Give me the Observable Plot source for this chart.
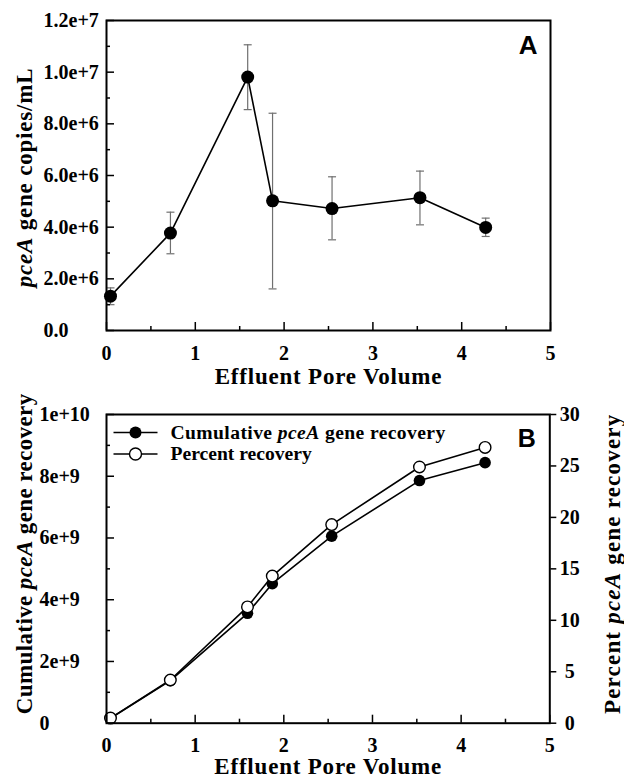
<!DOCTYPE html>
<html><head><meta charset="utf-8">
<script src="https://cdn.jsdelivr.net/npm/d3@7"></script>
<script src="https://cdn.jsdelivr.net/npm/@observablehq/plot@0.6"></script>
<style>
body{margin:0;background:#fff;}
#chart{width:624px;height:780px;overflow:hidden;}
#chart svg{display:block;}
</style></head><body><div id="chart"></div>
<script>
// ---- data ----
const poreVolume = [0.045, 0.72, 1.59, 1.87, 2.54, 3.53, 4.27];
const copiesPerML = [1.33e6, 3.77e6, 9.81e6, 5.02e6, 4.72e6, 5.14e6, 3.99e6];
const copiesHigh = [1.65e6, 4.58e6, 11.06e6, 8.41e6, 5.95e6, 6.17e6, 4.35e6];
const copiesLow = [1.0e6, 2.97e6, 8.55e6, 1.61e6, 3.51e6, 4.09e6, 3.64e6];
const cumulativeRecovery = [1.62e8, 1.38e9, 3.56e9, 4.52e9, 6.06e9, 7.86e9, 8.44e9];
const percentRecovery = [0.5, 4.2, 11.3, 14.3, 19.3, 24.9, 26.8];

const xTicksMajor = [0, 1, 2, 3, 4, 5];
const xTicksMinor = [0.5, 1.5, 2.5, 3.5, 4.5];
const yTicksA = [0, 2e6, 4e6, 6e6, 8e6, 1e7, 1.2e7];
const yTicksAMinor = [1e6, 3e6, 5e6, 7e6, 9e6, 1.1e7];
const yTicksB = [0, 2e9, 4e9, 6e9, 8e9, 1e10];
const yTicksBMinor = [1e9, 3e9, 5e9, 7e9, 9e9];
const pctTicks = [0, 5, 10, 15, 20, 25, 30];
const pctMax = 30;
const yMaxB = 1e10;

const xTitle = "Effluent Pore Volume";
const yTitleA = "pceA gene copies/mL";
const yTitleB = "Cumulative pceA gene recovery";
const yTitleB2 = "Percent pceA gene recovery";
const legendLabels = ["Cumulative pceA gene recovery", "Percent recovery"];

const rowsA = poreVolume.map((pv, i) => ({pv, v: copiesPerML[i], hi: copiesHigh[i], lo: copiesLow[i]}));
const rowsB = poreVolume.map((pv, i) => ({pv, cum: cumulativeRecovery[i], pct: percentRecovery[i]}));

const serif = "'Liberation Serif','Times New Roman',Times,serif";
const sans = "'Liberation Sans',Arial,Helvetica,sans-serif";
const capSymbol = {draw(ctx, size) { const r = Math.sqrt(size / Math.PI); ctx.moveTo(-r, 0); ctx.lineTo(r, 0); }};
const errColor = "#707070";

const fmtX = d => String(d);
const fmtA = d => d === 0 ? "0.0" : d.toExponential(1);
const fmtB = d => d === 0 ? "0" : d.toExponential(0);

const baseStyle = {fontFamily: serif, fontWeight: "bold", fontSize: "20px", color: "black", background: "white", overflow: "visible"};

function tickAxes(yMajor, yMinor) {
  return [
    Plot.axisX({ticks: xTicksMajor, tickSize: -8, tickFormat: () => "", label: null, strokeWidth: 1.5}),
    Plot.axisX({ticks: xTicksMinor, tickSize: -4, tickFormat: () => "", label: null, strokeWidth: 1.5}),
    Plot.axisX({ticks: xTicksMajor, tickSize: 0, tickPadding: 15, tickFormat: fmtX, label: null, fontSize: 20, fontWeight: "bold"}),
    Plot.axisY({ticks: yMajor, tickSize: -8, tickFormat: () => "", label: null, strokeWidth: 1.5}),
    Plot.axisY({ticks: yMinor, tickSize: -4, tickFormat: () => "", label: null, strokeWidth: 1.5})
  ];
}

const chartA = Plot.plot({
  width: 624, height: 385,
  marginLeft: 106, marginRight: 74, marginTop: 20, marginBottom: 55,
  style: baseStyle,
  x: {domain: [0, 5]},
  y: {domain: [0, 1.2e7]},
  marks: [
    Plot.ruleX(rowsA, {x: "pv", y1: "lo", y2: "hi", stroke: errColor, strokeWidth: 1.2}),
    Plot.dot(rowsA, {x: "pv", y: "hi", symbol: capSymbol, r: 4, stroke: errColor, strokeWidth: 1.2}),
    Plot.dot(rowsA, {x: "pv", y: "lo", symbol: capSymbol, r: 4, stroke: errColor, strokeWidth: 1.2}),
    Plot.line(rowsA, {x: "pv", y: "v", stroke: "black", strokeWidth: 1.6}),
    Plot.dot(rowsA, {x: "pv", y: "v", r: 6.5, fill: "black"}),
    ...tickAxes(yTicksA, yTicksAMinor),
    Plot.axisY({ticks: yTicksA, tickSize: 0, tickPadding: 0, dx: -63, textAnchor: "start", tickFormat: fmtA, label: null, fontSize: 20, fontWeight: "bold"}),
    Plot.frame({stroke: "black", strokeWidth: 2}),
    Plot.text([xTitle], {text: d => d, frameAnchor: "bottom", dy: 53, lineAnchor: "bottom", textAnchor: "middle", fontSize: 23, fontWeight: "bold"}),
    Plot.text([yTitleA], {text: d => d, frameAnchor: "left", dx: -82, dy: 2, rotate: -90, textAnchor: "middle", lineAnchor: "middle", fontSize: 23, fontWeight: "bold"}),
    Plot.text(["A"], {text: d => d, frameAnchor: "top-right", dx: -13, dy: 15, lineAnchor: "top", textAnchor: "end", fontFamily: sans, fontSize: 26, fontWeight: "bold"})
  ]
});

const chartB = Plot.plot({
  width: 624, height: 395,
  marginLeft: 106, marginRight: 74.7, marginTop: 29, marginBottom: 57.3,
  style: baseStyle,
  x: {domain: [0, 5]},
  y: {domain: [0, yMaxB]},
  marks: [
    Plot.line(rowsB, {x: "pv", y: "cum", stroke: "black", strokeWidth: 1.6}),
    Plot.dot(rowsB, {x: "pv", y: "cum", r: 5.8, fill: "black"}),
    Plot.line(rowsB, {x: "pv", y: d => d.pct / pctMax * yMaxB, stroke: "black", strokeWidth: 1.6}),
    Plot.dot(rowsB, {x: "pv", y: d => d.pct / pctMax * yMaxB, r: 5.8, fill: "white", stroke: "black", strokeWidth: 1.4}),
    ...tickAxes(yTicksB, yTicksBMinor),
    Plot.axisY({ticks: yTicksB, tickSize: 0, tickPadding: 0, dx: -67, textAnchor: "start", tickFormat: fmtB, label: null, fontSize: 20, fontWeight: "bold"}),
    Plot.axisY({anchor: "right", ticks: pctTicks.map(p => p / pctMax * yMaxB), tickSize: 6, tickPadding: 14, textAnchor: "middle",
      tickFormat: v => String(Math.round(v / yMaxB * pctMax)), label: null, strokeWidth: 1.5, fontSize: 20, fontWeight: "bold"}),
    Plot.frame({stroke: "black", strokeWidth: 2}),
    // legend
    Plot.dot([legendLabels[0]], {frameAnchor: "top-left", dx: 29, dy: 18, symbol: capSymbol, r: 22, stroke: "black", strokeWidth: 1.6}),
    Plot.dot([legendLabels[0]], {frameAnchor: "top-left", dx: 29, dy: 18, r: 6, fill: "black"}),
    Plot.text([legendLabels[0]], {text: d => d, frameAnchor: "top-left", dx: 64, dy: 18, textAnchor: "start", lineAnchor: "middle", fontSize: 19.6, fontWeight: "bold"}),
    Plot.dot([legendLabels[1]], {frameAnchor: "top-left", dx: 29, dy: 39.5, symbol: capSymbol, r: 22, stroke: "black", strokeWidth: 1.6}),
    Plot.dot([legendLabels[1]], {frameAnchor: "top-left", dx: 29, dy: 39.5, r: 6, fill: "white", stroke: "black", strokeWidth: 1.4}),
    Plot.text([legendLabels[1]], {text: d => d, frameAnchor: "top-left", dx: 64, dy: 39.5, textAnchor: "start", lineAnchor: "middle", fontSize: 19.6, fontWeight: "bold"}),
    Plot.text([xTitle], {text: d => d, frameAnchor: "bottom", dy: 51, lineAnchor: "bottom", textAnchor: "middle", fontSize: 23, fontWeight: "bold"}),
    Plot.text([yTitleB], {text: d => d, frameAnchor: "left", dx: -82, dy: -15, rotate: -90, textAnchor: "middle", lineAnchor: "middle", fontSize: 23, fontWeight: "bold"}),
    Plot.text([yTitleB2], {text: d => d, frameAnchor: "right", dx: 63, dy: -5, rotate: -90, textAnchor: "middle", lineAnchor: "middle", fontSize: 23, fontWeight: "bold"}),
    Plot.text(["B"], {text: d => d, frameAnchor: "top-right", dx: -14, dy: 15, lineAnchor: "top", textAnchor: "end", fontFamily: sans, fontSize: 25, fontWeight: "bold"})
  ]
});

const spacing = {[xTitle]: "0.8px", [yTitleA]: "0.8px", [yTitleB]: "0.4px", [yTitleB2]: "1.2px"};
function italicize(svg, word) {
  svg.querySelectorAll("text").forEach(t => {
    const s = t.textContent;
    if (spacing[s]) t.style.letterSpacing = spacing[s];
    const i = s.indexOf(word);
    if (i < 0 || t.children.length) return;
    t.textContent = "";
    t.setAttribute("xml:space", "preserve");
    t.style.whiteSpace = "pre";
    const parts = [[s.slice(0, i), false], [word, true], [s.slice(i + word.length), false]];
    for (const [str, it] of parts) {
      if (!str) continue;
      const ts = document.createElementNS("http://www.w3.org/2000/svg", "tspan");
      ts.textContent = str;
      if (it) ts.setAttribute("font-style", "italic");
      t.appendChild(ts);
    }
  });
}
italicize(chartA, "pceA");
italicize(chartB, "pceA");
document.getElementById("chart").append(chartA, chartB);
</script></body></html>
